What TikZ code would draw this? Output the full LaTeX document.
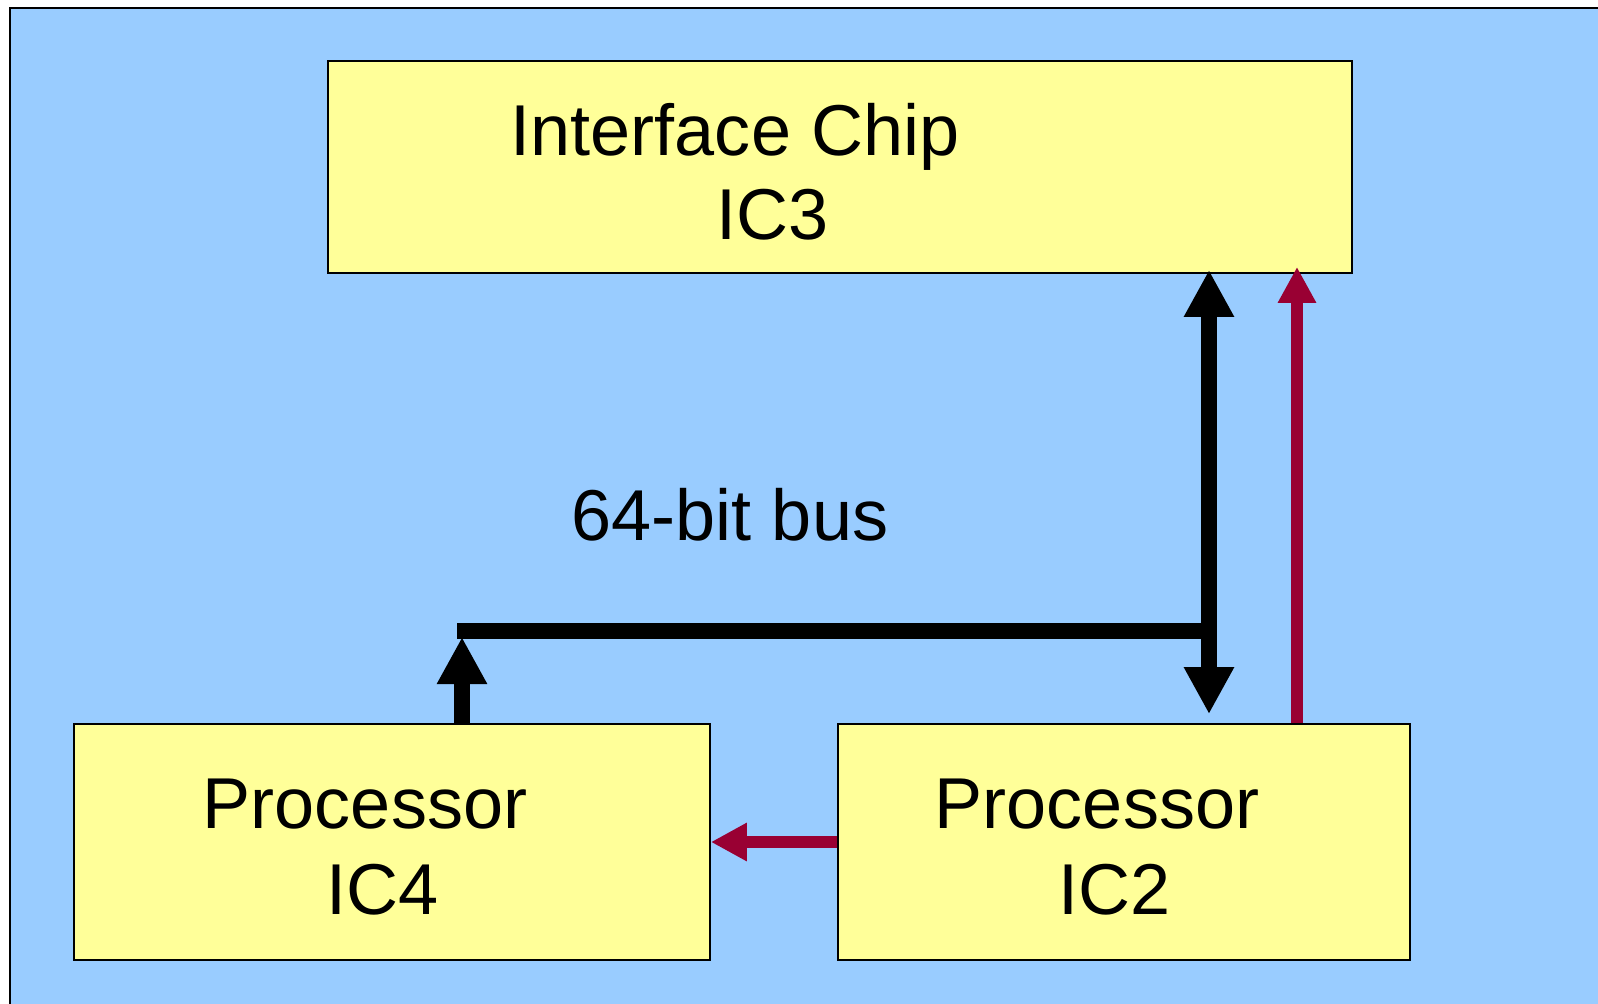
\documentclass[tikz,border=0pt]{standalone}
\usepackage{fontspec}
\setmainfont{Liberation Sans}
\usepackage{tikz}
\usepackage{xcolor}
\usetikzlibrary{arrows.meta, positioning, calc}
\definecolor{cBack}{RGB}{153,204,255}
\definecolor{cChip}{RGB}{255,255,153}
\definecolor{cWine}{RGB}{153,0,51}
\tikzset{
	chip/.style     ={rectangle, draw=black, line width=0.5pt, fill=cChip, inner sep=0pt},
	lbl/.style      ={anchor=base, inner sep=0pt, font=\fontsize{20.5}{25}\selectfont},
	bus/.style      ={line width=4.5pt, black},
	busarrow/.style ={bus, -{Triangle[length=4.7mm, width=4.7mm]}},
	ctrl/.style     ={line width=3.4pt, cWine, -{Triangle[length=3.6mm, width=3.6mm]}},
}

\begin{document}
\begin{tikzpicture}
				\useasboundingbox (0,0) rectangle (15.98,-10.04);
				\fill[white] (0,0) rectangle (15.98,-10.04);
				\draw[fill=cBack, line width=0.6pt] (0.10,-0.08) rectangle (16.3,-10.4);
				% chips
				\node[chip, minimum width=10.24cm, minimum height=2.12cm] (ic3) at (8.40,-1.67) {};
				\node[chip, minimum width=6.36cm, minimum height=2.36cm] (ic4) at (3.92,-8.42) {};
				\node[chip, minimum width=5.72cm, minimum height=2.36cm] (ic2) at (11.24,-8.42) {};
				\node[lbl] (ic3a) at (7.35,-1.55) {Interface Chip};
				\node[lbl] (ic3b) at (7.73,-2.395) {IC3};
				\node[lbl] (ic4a) at (3.65,-8.285) {Processor};
				\node[lbl] (ic4b) at (3.83,-9.14) {IC4};
				\node[lbl] (ic2a) at (10.97,-8.285) {Processor};
				\node[lbl] (ic2b) at (11.15,-9.14) {IC2};
				\node[lbl] (buslbl) at (7.30,-5.40) {64-bit bus};
				% bus
				\coordinate (busx) at (12.09,0);
				\coordinate (upx) at (4.62,0);
				\coordinate (redx) at (12.97,0);
				\coordinate (tee) at (12.09,-6.31);
				\coordinate (corner) at (4.57,-6.31);
				\draw[bus] (tee) -- (corner);
				\draw[busarrow, {Triangle[length=4.7mm, width=4.7mm]}-{Triangle[length=4.7mm, width=4.7mm]}, shorten >=0.9mm, shorten <=-0.4mm] (ic3.south -| busx) -- (ic2.north -| busx);
				\draw[busarrow, shorten >=0.6mm] (ic4.north -| upx) -- (tee -| upx);
				% control lines
				\draw[ctrl, shorten >=-0.7mm] (ic2.north -| redx) -- (ic3.south -| redx);
				\draw[ctrl] (ic2.west) -- (ic4.east);
\end{tikzpicture}
\end{document}
